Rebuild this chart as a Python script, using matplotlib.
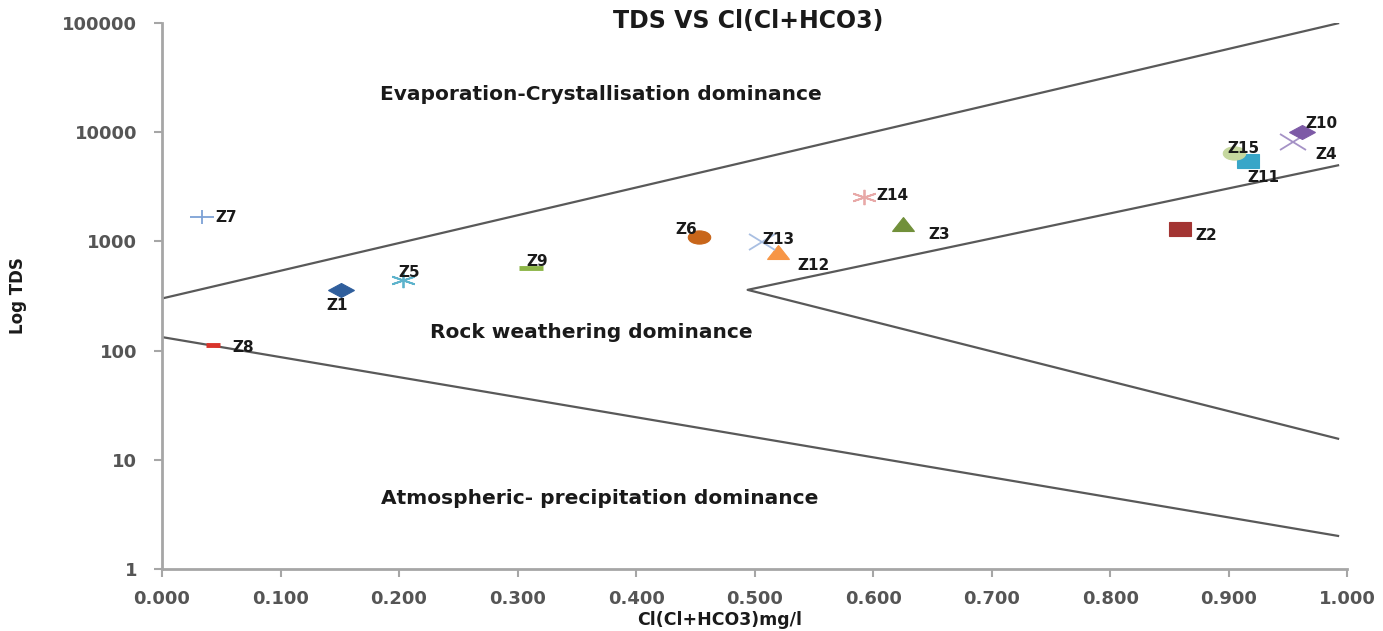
import numpy as np
import matplotlib
matplotlib.use("Agg")
import matplotlib.pyplot as plt
from matplotlib.markers import MarkerStyle
from matplotlib.transforms import Affine2D

# sample points: ratio Cl/(Cl+HCO3) and TDS
names = ["Z1", "Z2", "Z3", "Z4", "Z5", "Z6", "Z7", "Z8",
         "Z9", "Z10", "Z11", "Z12", "Z13", "Z14", "Z15"]
ratio = [0.151, 0.859, 0.625, 0.954, 0.203, 0.453, 0.034, 0.043,
         0.311, 0.962, 0.916, 0.520, 0.506, 0.592, 0.904]
tds = [360, 1300, 1450, 8100, 445, 1100, 1670, 112,
       570, 10000, 5450, 800, 990, 2550, 6450]
markers = ["D", "s", "^", "x", (6, 2, 0), "o", "+", "_",
           "_", "D", "s", "^", "x", (6, 2, 0), "o"]
colors = ["#2F5E9C", "#A33533", "#71903A", "#A592C6", "#5DB3CC",
          "#C8661A", "#7DA1D6", "#D9342B", "#8DB548", "#7D5AA6",
          "#38A6C8", "#F79646", "#A9BFE2", "#E8A9A8", "#C6D89F"]
sizes = [7.5, 9.5, 9.5, 11, 11, 9.5, 10, 6, 10, 7.5, 9.5, 9.5, 11, 11, 9.5]
# label offsets in points
offsets = [(-3, -11), (19, -5), (26, -8), (24, -9), (5, 5), (-9, 5),
           (17, 0), (22, -2), (5, 5), (14, 6), (11, -12), (25, -10),
           (12, 2), (21, 1), (7, 3)]

# Gibbs boundary lines
upper_x = [0.0, 0.993]
upper_y = [300, 100000]
chevron_x = [0.993, 0.494, 0.993]
chevron_y = [5000, 360, 15.5]
lower_x = [0.0, 0.993]
lower_y = [133, 2.0]

fig = plt.figure(figsize=(13.83, 6.31), dpi=100)
ax = fig.add_axes([0.1171, 0.0983, 0.8572, 0.8652])

line_kw = dict(color="#595959", lw=1.6, solid_capstyle="butt")
ax.plot(upper_x, upper_y, **line_kw)
ax.plot(chevron_x, chevron_y, **line_kw)
ax.plot(lower_x, lower_y, **line_kw)

stretch = Affine2D().scale(1.7, 1.0)
for x, y, m, c, s in zip(ratio, tds, markers, colors, sizes):
    ms = MarkerStyle(m, transform=stretch)
    lw = 1.3 if m in ("x", "+", "_") or isinstance(m, tuple) else 0.8
    if m == "_":
        lw = 3.5
    ax.plot(x, y, linestyle="none", marker=ms, markersize=s, color=c,
            markeredgecolor=c, markeredgewidth=lw, zorder=3)

for n, x, y, (dx, dy) in zip(names, ratio, tds, offsets):
    ax.annotate(n, (x, y), xytext=(dx, dy), textcoords="offset points",
                ha="center", va="center", fontsize=11, fontweight="bold",
                color="#1a1a1a", zorder=4)

ax.set_yscale("log")
ax.set_ylim(1, 100000)
ax.set_xlim(0, 1.0)
ax.set_yticks([1, 10, 100, 1000, 10000, 100000])
ax.set_yticklabels(["1", "10", "100", "1000", "10000", "100000"])
ax.yaxis.set_minor_locator(matplotlib.ticker.NullLocator())
ax.set_xticks(np.arange(0, 1.01, 0.1))
ax.set_xticklabels([f"{v:.3f}" for v in np.arange(0, 1.01, 0.1)])

for side in ("top", "right"):
    ax.spines[side].set_visible(False)
for side in ("left", "bottom"):
    ax.spines[side].set_color("#A6A6A6")
    ax.spines[side].set_linewidth(2)
ax.tick_params(axis="both", colors="#A6A6A6", direction="out", length=6,
               width=1.5, labelcolor="#555555", labelsize=13)
for lbl in ax.get_xticklabels() + ax.get_yticklabels():
    lbl.set_fontweight("bold")
ax.tick_params(axis="x", pad=9)
ax.tick_params(axis="y", pad=12)

region_kw = dict(ha="center", va="center", fontsize=14.5,
                 fontweight="bold", color="#1a1a1a")
ax.text(0.37, 22000, "Evaporation-Crystallisation dominance", **region_kw)
ax.text(0.362, 145, "Rock weathering dominance", **region_kw)
ax.text(0.369, 4.4, "Atmospheric- precipitation dominance", **region_kw)

fig.text(0.541, 0.966, "TDS VS Cl(Cl+HCO3)", ha="center", va="center",
         fontsize=17, fontweight="bold", color="#1a1a1a")
ax.set_xlabel("Cl(Cl+HCO3)mg/l", fontsize=12.5, fontweight="bold",
              color="#1a1a1a")
ax.xaxis.set_label_coords(0.47, -0.077)
ax.set_ylabel("Log TDS", fontsize=12, fontweight="bold", color="#1a1a1a")
ax.yaxis.set_label_coords(-0.114, 0.5)

fig.savefig("out.png", dpi=100, facecolor="white")
